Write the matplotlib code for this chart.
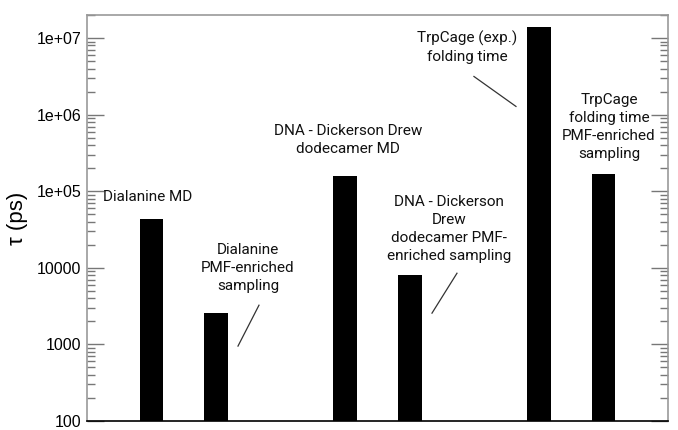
import matplotlib
matplotlib.use("Agg")
import matplotlib.pyplot as plt
from matplotlib.ticker import LogLocator, NullFormatter

# ---- data ----
groups = ["Dialanine", "DNA - Dickerson Drew dodecamer", "TrpCage"]
series = ["MD / experiment", "PMF-enriched sampling"]
labels = [
    "Dialanine MD",
    "Dialanine\nPMF-enriched\nsampling",
    "DNA - Dickerson Drew\ndodecamer MD",
    "DNA - Dickerson\nDrew\ndodecamer PMF-\nenriched sampling",
    "TrpCage (exp.)\nfolding time",
    "TrpCage\nfolding time\nPMF-enriched\nsampling",
]
values = [43000, 2550, 160000, 8000, 1.38e7, 170000]
ytick_values = [100, 1000, 10000, 1e5, 1e6, 1e7]
ytick_labels = ["100", "1000", "10000", "1e+05", "1e+06", "1e+07"]
ylabel = "τ (ps)"

# ---- layout ----
fig = plt.figure(figsize=(6.78, 4.30), dpi=100)
ax = fig.add_axes([87 / 678, 1 - 421 / 430, 581 / 678, 406 / 430])

xpos = []
for g in range(len(groups)):
    for s in range(len(series)):
        xpos.append(g * 3 + 1 + s)

ax.bar(xpos, values, width=0.37, color="black", bottom=0)
ax.set_yscale("log")
ax.set_ylim(100, 2e7)
ax.set_xlim(0, 9)
ax.set_xticks([])

ax.set_yticks(ytick_values)
ax.set_yticklabels(ytick_labels, family="Liberation Sans", fontsize=11.5)
ax.yaxis.set_minor_locator(LogLocator(base=10, subs=range(2, 10), numticks=20))
ax.yaxis.set_minor_formatter(NullFormatter())
ax.tick_params(axis="y", which="major", direction="in", length=12, width=1,
               color="#777777", right=True, pad=4)
ax.tick_params(axis="y", which="minor", direction="in", length=6, width=1,
               color="#777777", right=True)

for side in ["left", "right", "top"]:
    ax.spines[side].set_color("#999999")
    ax.spines[side].set_linewidth(1.2)
ax.spines["bottom"].set_color("black")
ax.spines["bottom"].set_linewidth(1.2)

ax.set_ylabel(ylabel, family="Liberation Sans", fontsize=16, labelpad=6)

# annotation layout (data coords)
text_pos = [
    (0.945, 8.3e4),
    (2.494, 9.9e3),
    (4.04, 4.68e5),
    (5.607, 3.24e4),
    (5.886, 7.64e6),
    (8.085, 6.92e5),
]
for lab, (tx, ty) in zip(labels, text_pos):
    ax.text(tx, ty, lab, ha="center", va="center", family="Roboto",
            fontsize=11, linespacing=1.36, color="#111111")

leader_lines = [
    ((2.664, 3250), (2.339, 951)),
    ((5.731, 8500), (5.344, 2560)),
    ((5.994, 3.15e6), (6.645, 1.28e6)),
]
for (x0, y0), (x1, y1) in leader_lines:
    ax.plot([x0, x1], [y0, y1], color="#333333", lw=0.9)

fig.savefig("out.png", dpi=100)
